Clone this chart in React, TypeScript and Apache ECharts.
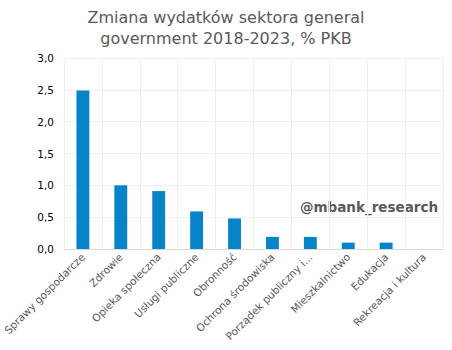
import React, { useEffect, useRef } from "react";
import * as echarts from "echarts";

const categories = [
  "Sprawy gospodarcze",
  "Zdrowie",
  "Opieka społeczna",
  "Usługi publiczne",
  "Obronność",
  "Ochrona środowiska",
  "Porządek publiczny i...",
  "Mieszkalnictwo",
  "Edukacja",
  "Rekreacja i kultura",
];
const values = [2.49, 1.0, 0.91, 0.59, 0.48, 0.19, 0.19, 0.1, 0.1, 0.0];
const yTicks = [0, 0.5, 1, 1.5, 2, 2.5, 3];

export default function App() {
  const ref = useRef<HTMLDivElement>(null);
  useEffect(() => {
    document.body.style.margin = "0";
    if (!ref.current) return;
    const chart = echarts.init(ref.current, null, { renderer: "svg" });
    chart.setOption({
      animation: false,
      textStyle: { fontFamily: "DejaVu Sans" },
      title: {
        text: "Zmiana wydatków sektora general\ngovernment 2018-2023, % PKB",
        left: "center",
        top: 2,
        textStyle: {
          fontFamily: "DejaVu Sans",
          fontSize: 16,
          fontWeight: "normal",
          color: "#595959",
          lineHeight: 21,
        },
      },
      graphic: [
        {
          type: "text",
          left: 300,
          top: 200,
          style: {
            text: "@mbank_research",
            font: "bold 13.5px DejaVu Sans",
            fill: "#595959",
          },
        },
      ],
      grid: { left: 63, right: 9, top: 58, bottom: 101, containLabel: false },
      xAxis: {
        type: "category",
        data: categories,
        axisLine: { lineStyle: { color: "#d9d9d9" } },
        axisTick: { show: false },
        splitLine: { show: true, lineStyle: { color: "#efefef" } },
        axisLabel: {
          rotate: 45,
          interval: 0,
          fontSize: 10.5,
          color: "#595959",
          margin: 6,
        },
      },
      yAxis: {
        type: "value",
        min: 0,
        max: 3,
        interval: 0.5,
        axisLine: { show: false },
        axisTick: { show: false },
        splitLine: { lineStyle: { color: "#efefef" } },
        axisLabel: {
          fontSize: 10.5,
          color: "#000000",
          margin: 10,
          formatter: (v: number) => v.toFixed(1).replace(".", ","),
        },
      },
      series: [
        {
          type: "bar",
          data: values,
          barWidth: "34%",
          itemStyle: { color: "#0783c8" },
        },
      ],
    });
    return () => chart.dispose();
  }, []);
  return <div ref={ref} style={{ width: 452, height: 350 }} />;
}
